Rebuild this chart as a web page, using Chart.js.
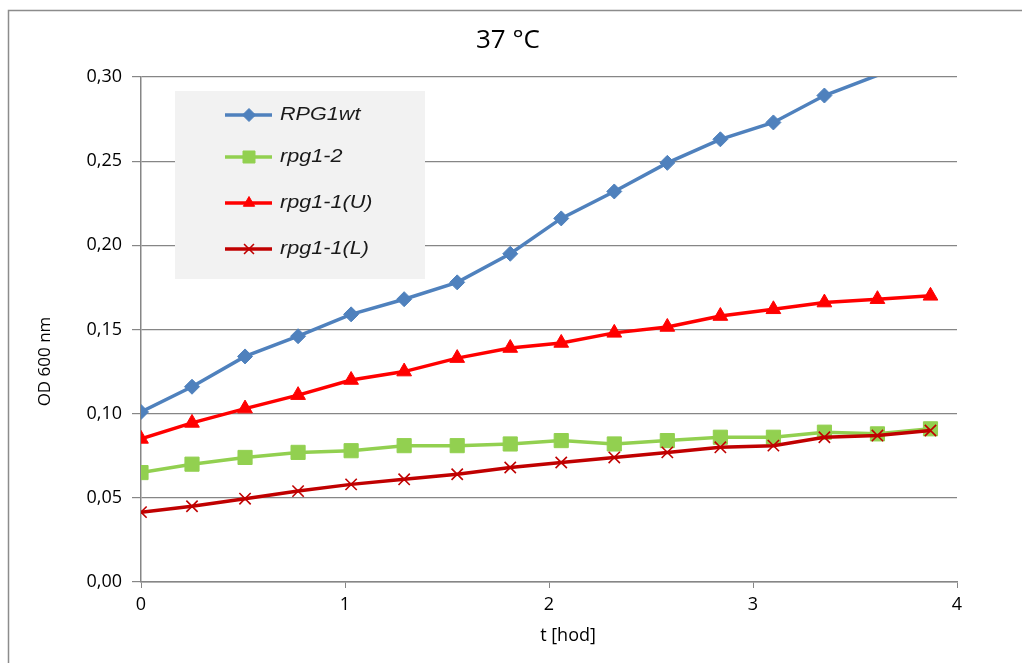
<!DOCTYPE html>
<html>
<head>
<meta charset="utf-8">
<title>37 °C</title>
<script src="https://cdn.jsdelivr.net/npm/chart.js@4/dist/chart.umd.min.js"></script>
<style>
    body { margin: 0; background: #fff; overflow: hidden; }
    canvas { display: block; }
</style>
</head>
<body>
<canvas id="growthChart" width="1022" height="663"></canvas>
<script>
// time in hours
const times = [0, 0.25, 0.51, 0.77, 1.03, 1.29, 1.55, 1.81, 2.06, 2.32, 2.58, 2.84, 3.10, 3.35, 3.61, 3.87];

// OD 600 nm per strain
const rpg1wt = [0.101, 0.116, 0.134, 0.146, 0.159, 0.168, 0.178, 0.195, 0.216, 0.232, 0.249, 0.263, 0.273, 0.289, 0.301, 0.311];
const rpg1_2 = [0.065, 0.070, 0.074, 0.077, 0.078, 0.081, 0.081, 0.082, 0.084, 0.082, 0.084, 0.086, 0.086, 0.089, 0.088, 0.091];
const rpg1_1U = [0.085, 0.0945, 0.103, 0.111, 0.120, 0.125, 0.133, 0.139, 0.142, 0.148, 0.1515, 0.158, 0.162, 0.166, 0.168, 0.170];
const rpg1_1L = [0.0415, 0.045, 0.0495, 0.054, 0.058, 0.061, 0.064, 0.068, 0.071, 0.074, 0.077, 0.080, 0.081, 0.086, 0.087, 0.090];

const seriesNames = ['RPG1wt', 'rpg1-2', 'rpg1-1(U)', 'rpg1-1(L)'];
const yTicks = [0, 0.05, 0.10, 0.15, 0.20, 0.25, 0.30];
const xTicks = [0, 1, 2, 3, 4];
const chartTitle = '37 °C';

const Y_MAX = yTicks[yTicks.length - 1];
const GRID = '#868686';
const FONT = 'Open Sans';

function toPoints(values) {
    return values.map((v, i) => ({ x: times[i], y: v }));
}

function makeDataset(label, values, color, style, radius, order) {
    return {
        label: label,
        data: toPoints(values),
        borderColor: color,
        backgroundColor: color,
        borderWidth: 3.5,
        tension: 0,
        fill: false,
        pointStyle: style,
        // excel hides markers that fall outside the plot
        pointRadius: ctx => (ctx.raw && ctx.raw.y > Y_MAX) ? 0 : radius,
        pointHoverRadius: radius,
        pointBackgroundColor: color,
        pointBorderColor: color,
        pointBorderWidth: style === 'crossRot' ? 1.6 : 1,
        order: order
    };
}

// grey frame round the chart, only its left and top edges are in view
const frame = {
    id: 'frame',
    beforeDraw(chart) {
        const ctx = chart.ctx;
        ctx.save();
        ctx.strokeStyle = '#8c8c8c';
        ctx.lineWidth = 1.5;
        ctx.beginPath();
        ctx.moveTo(8.5, chart.height);
        ctx.lineTo(8.5, 10.5);
        ctx.lineTo(chart.width, 10.5);
        ctx.stroke();
        ctx.restore();
    }
};

// legend as a grey box inside the plot
const legendBox = {
    id: 'legendBox',
    beforeDatasetsDraw(chart) {
        const ctx = chart.ctx;
        const area = chart.chartArea;
        const left = area.left + 34;
        const top = area.top + 14;
        const rows = [24, 66, 112, 158];
        ctx.save();
        ctx.fillStyle = '#f2f2f2';
        ctx.fillRect(left, top, 250, 188);
        chart.data.datasets.forEach((ds, i) => {
            const y = top + rows[i];
            ctx.strokeStyle = ds.borderColor;
            ctx.fillStyle = ds.borderColor;
            ctx.lineWidth = 3.5;
            ctx.beginPath();
            ctx.moveTo(left + 50, y);
            ctx.lineTo(left + 97, y);
            ctx.stroke();
            ctx.lineWidth = ds.pointBorderWidth;
            const r = ds.pointStyle === 'rect' ? 8.5 : (ds.pointStyle === 'crossRot' ? 7 : 6.5);
            Chart.helpers.drawPoint(ctx, { pointStyle: ds.pointStyle, radius: r, rotation: 0, borderWidth: ds.pointBorderWidth }, left + 74, y);

            ctx.save();
            ctx.translate(left + 105, y);
            ctx.scale(1.2, 1);
            ctx.font = 'italic 18px "Liberation Sans"';
            ctx.fillStyle = '#1a1a1a';
            ctx.textBaseline = 'middle';
            ctx.fillText(ds.label, 0, 0);
            ctx.restore();
        });
        ctx.restore();
    }
};

// title and axis titles, placed like the excel original
const titles = {
    id: 'titles',
    afterDraw(chart) {
        const ctx = chart.ctx;
        const area = chart.chartArea;
        ctx.save();
        ctx.fillStyle = '#000';
        ctx.textAlign = 'center';
        ctx.textBaseline = 'middle';

        ctx.font = '26px "' + FONT + '"';
        ctx.fillText(chartTitle, chart.width / 2 - 3, 41);

        ctx.font = '18px "' + FONT + '"';
        ctx.fillText('t [hod]', (area.left + area.right) / 2 + 19, area.bottom + 54);

        ctx.translate(45, (area.top + area.bottom) / 2 + 32);
        ctx.rotate(-Math.PI / 2);
        ctx.font = '17px "' + FONT + '"';
        ctx.fillText('OD 600 nm', 0, 0);
        ctx.restore();
    }
};

document.addEventListener('DOMContentLoaded', function () {
    const ctx = document.getElementById('growthChart').getContext('2d');
    new Chart(ctx, {
        type: 'line',
        data: {
            datasets: [
                makeDataset(seriesNames[0], rpg1wt, '#4f81bd', 'rectRot', 7.5, 4),
                makeDataset(seriesNames[1], rpg1_2, '#92d050', 'rect', 10, 3),
                makeDataset(seriesNames[2], rpg1_1U, '#ff0000', 'triangle', 8.5, 2),
                makeDataset(seriesNames[3], rpg1_1L, '#c00000', 'crossRot', 8, 1)
            ]
        },
        options: {
            responsive: false,
            animation: false,
            events: [],
            layout: {
                padding: { left: 0, right: 65, top: 77, bottom: 0 }
            },
            plugins: {
                legend: { display: false },
                tooltip: { enabled: false },
                title: { display: false }
            },
            scales: {
                x: {
                    type: 'linear',
                    min: xTicks[0],
                    max: xTicks[xTicks.length - 1],
                    afterFit: function (scale) { scale.height = 81; },
                    afterBuildTicks: function (scale) {
                        scale.ticks = xTicks.map(v => ({ value: v }));
                    },
                    ticks: {
                        padding: 6,
                        color: '#000',
                        maxRotation: 0,
                        font: { family: FONT, size: 18 }
                    },
                    grid: {
                        drawOnChartArea: false,
                        tickLength: 6,
                        color: GRID
                    },
                    border: { color: GRID, width: 1.5 }
                },
                y: {
                    min: yTicks[0],
                    max: Y_MAX,
                    afterFit: function (scale) { scale.width = 141; },
                    afterBuildTicks: function (scale) {
                        scale.ticks = yTicks.map(v => ({ value: v }));
                    },
                    ticks: {
                        padding: 10,
                        color: '#000',
                        font: { family: FONT, size: 18 },
                        callback: function (value) {
                            return value.toFixed(2).replace('.', ',');
                        }
                    },
                    grid: {
                        color: GRID,
                        lineWidth: 1.2,
                        tickLength: 9
                    },
                    border: { color: GRID, width: 1.5 }
                }
            }
        },
        plugins: [frame, legendBox, titles]
    });
});
</script>
</body>
</html>
